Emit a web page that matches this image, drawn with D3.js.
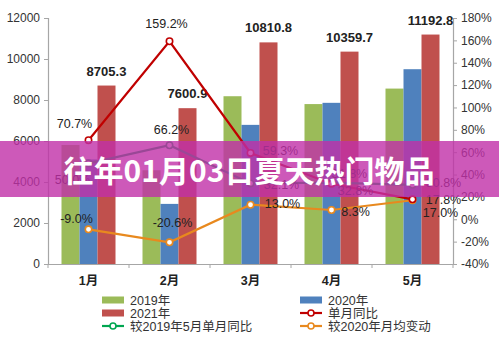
<!DOCTYPE html>
<html><head><meta charset="utf-8">
<script src="https://cdn.jsdelivr.net/npm/d3@7"></script>
<style>
html,body{margin:0;padding:0;background:#fff;}
svg{display:block;font-family:"Liberation Sans",Arial,"Noto Sans CJK SC",sans-serif;}
</style></head>
<body><svg id="c" width="499" height="338"></svg>
<script>
const months = ['1月','2月','3月','4月','5月'];
const v2019 = [5805, 4573, 8184, 7801, 8557];
const v2020 = [5100, 2932, 6787, 7862, 9502];
const v2021 = [8705.3, 7600.9, 10810.8, 10359.7, 11192.8];
const yoy = [70.7, 159.2, 59.3, 31.8, 17.8];
const vs2019 = [50.0, 66.2, 32.1, 32.8, 30.8];
const vs2020avg = [-9.0, -20.6, 13.0, 8.3, 17.0];
const leftTicks = [0, 2000, 4000, 6000, 8000, 10000, 12000];
const rightTicks = [-40, -20, 0, 20, 40, 60, 80, 100, 120, 140, 160, 180];
const title = '往年01月03日夏天热门物品';

// label placement (layout only): [dx, baselineDy] relative to point
const yoyOff = [[-14,-12],[-3,-13],[30,2],[18,-6],[31,5]];
const vs2019Off = [[-16,21],[2,-11],[31,6],[24,12],[31,2]];
const vs2020Off = [[-12,-6],[3,-15],[32,3],[24,6],[28,17]];

const svg = d3.select('#c');
const L = 48, R = 453, T = 18, B = 264;
const x = d3.scaleBand().domain(months).range([L, R]).padding(0);
const xs = d3.scaleBand().domain(['a','b','c']).range([13.5, x.bandwidth()-13.5]).padding(0);
const yL = d3.scaleLinear().domain([0, 12000]).range([B, T]);
const yR = d3.scaleLinear().domain([-40, 180]).range([B, T]);

const axisColor = '#a6a6a6', textColor = '#333';

// bars
const series = [
  {k:'a', vals:v2019, color:'#9bbb59'},
  {k:'b', vals:v2020, color:'#4f81bd'},
  {k:'c', vals:v2021, color:'#c0504d'}
];
series.forEach(s => {
  svg.append('g').selectAll('rect').data(s.vals).join('rect')
    .attr('x', (d,i) => x(months[i]) + xs(s.k))
    .attr('width', xs.bandwidth())
    .attr('y', d => yL(d))
    .attr('height', d => B - yL(d))
    .attr('fill', s.color);
});

// axes
const gl = svg.append('g').attr('transform', `translate(${L},0)`)
  .call(d3.axisLeft(yL).tickValues(leftTicks).tickSize(4).tickPadding(4).tickFormat(d3.format('d')));
const gr = svg.append('g').attr('transform', `translate(${R},0)`)
  .call(d3.axisRight(yR).tickValues(rightTicks).tickSize(4).tickPadding(4).tickFormat(d => d + '%'));
const gb = svg.append('g').attr('transform', `translate(0,${B})`)
  .call(d3.axisBottom(x).tickSize(0).tickPadding(12));
// boundary ticks on x axis
svg.append('g').selectAll('line').data(months.concat(['end'])).join('line')
  .attr('x1', (d,i) => L + i * x.bandwidth()).attr('x2', (d,i) => L + i * x.bandwidth())
  .attr('y1', B).attr('y2', B + 4).attr('stroke', axisColor);
[gl, gr, gb].forEach(g => {
  g.selectAll('path.domain').attr('stroke', axisColor).attr('stroke-width', 1.2);
  g.selectAll('.tick line').attr('stroke', axisColor);
  g.selectAll('text').attr('fill', textColor).attr('font-size', 12)
    .attr('font-family', '"Liberation Sans",Arial,"Noto Sans CJK SC",sans-serif');
});
gb.selectAll('text').attr('font-weight', 'bold').attr('fill', '#222').attr('font-size', 12.5);

// bar labels for 2021
svg.append('g').selectAll('text').data(v2021).join('text')
  .attr('x', (d,i) => x(months[i]) + xs('c') + xs.bandwidth()/2)
  .attr('y', d => yL(d) - 10)
  .attr('text-anchor', 'middle').attr('font-size', 13).attr('font-weight', 'bold')
  .attr('fill', '#222').text(d => d.toFixed(1));

// lines
const cx = i => x(months[i]) + x.bandwidth()/2;
const lines = [
  {vals:vs2020avg, color:'#e8891e', off:vs2020Off},
  {vals:vs2019, color:'#00a650', off:vs2019Off},
  {vals:yoy, color:'#c00000', off:yoyOff}
];
const lineGen = d3.line().x((d,i) => cx(i)).y(d => yR(d));
lines.forEach(l => {
  svg.append('path').datum(l.vals).attr('d', lineGen)
    .attr('fill', 'none').attr('stroke', l.color).attr('stroke-width', 2.2);
  svg.append('g').selectAll('circle').data(l.vals).join('circle')
    .attr('cx', (d,i) => cx(i)).attr('cy', d => yR(d)).attr('r', 3.2)
    .attr('fill', '#fff').attr('stroke', l.color).attr('stroke-width', 1.6);
});
lines.forEach(l => {
  svg.append('g').selectAll('text').data(l.vals).join('text')
    .attr('x', (d,i) => cx(i) + l.off[i][0])
    .attr('y', (d,i) => yR(d) + l.off[i][1])
    .attr('text-anchor', 'middle').attr('font-size', 12.5).attr('fill', '#222')
    .text(d => d.toFixed(1) + '%');
});

// legend
const legend = [
  {name:'2019年', type:'bar', color:'#9bbb59', col:0, row:0},
  {name:'2020年', type:'bar', color:'#4f81bd', col:1, row:0},
  {name:'2021年', type:'bar', color:'#c0504d', col:0, row:1},
  {name:'单月同比', type:'line', color:'#c00000', col:1, row:1},
  {name:'较2019年5月单月同比', type:'line', color:'#00a650', col:0, row:2},
  {name:'较2020年月均变动', type:'line', color:'#e8891e', col:1, row:2}
];
const colX = [102, 300], rowY = [300, 313, 326];
const lg = svg.append('g').selectAll('g').data(legend).join('g')
  .attr('transform', d => `translate(${colX[d.col]},${rowY[d.row]})`);
lg.filter(d => d.type === 'bar').append('rect')
  .attr('x', 0).attr('y', -3.5).attr('width', 22).attr('height', 7).attr('fill', d => d.color);
lg.filter(d => d.type === 'line').append('line')
  .attr('x1', 0).attr('x2', 22).attr('y1', 0).attr('y2', 0)
  .attr('stroke', d => d.color).attr('stroke-width', 2.2);
lg.filter(d => d.type === 'line').append('circle')
  .attr('cx', 11).attr('cy', 0).attr('r', 3).attr('fill', '#fff')
  .attr('stroke', d => d.color).attr('stroke-width', 1.6);
lg.append('text').attr('x', 28).attr('y', 4.5).attr('font-size', 12.5).attr('fill', textColor)
  .text(d => d.name);

// title banner overlay
svg.append('rect').attr('x', 0).attr('y', 141).attr('width', 499).attr('height', 56)
  .attr('fill', '#c02fa8').attr('fill-opacity', 0.8);
svg.append('text').attr('x', 249).attr('y', 169).attr('text-anchor', 'middle')
  .attr('dominant-baseline', 'central')
  .attr('font-family', '"Noto Sans CJK SC",sans-serif').attr('font-weight', 'bold')
  .attr('font-size', 30).attr('fill', '#fff').text(title);
</script></body></html>
